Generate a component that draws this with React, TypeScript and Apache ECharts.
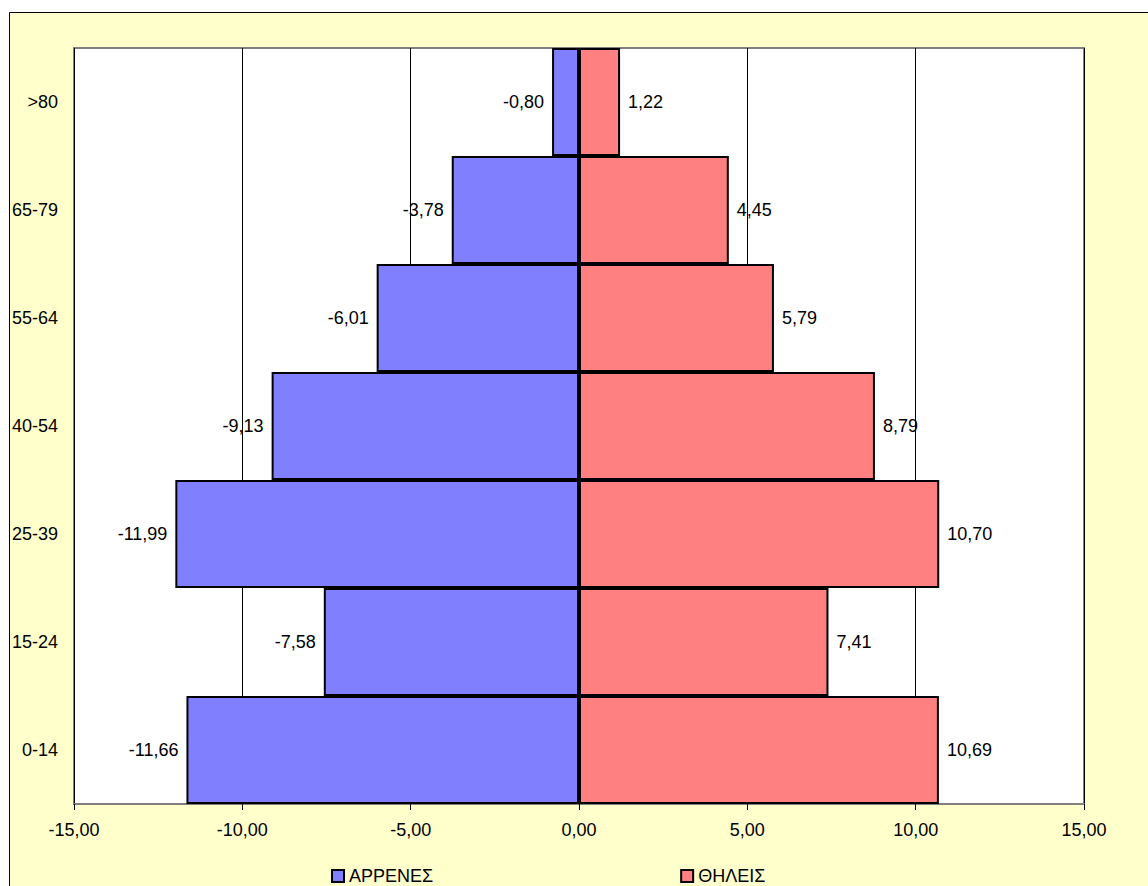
import React, { useEffect, useRef } from "react";
import * as echarts from "echarts";

// Age groups, bottom to top
const ageGroups = ["0-14", "15-24", "25-39", "40-54", "55-64", "65-79", ">80"];
// Percent of population, men shown as negative values
const menValues = [-11.66, -7.58, -11.99, -9.13, -6.01, -3.78, -0.8];
const womenValues = [10.69, 7.41, 10.7, 8.79, 5.79, 4.45, 1.22];
const seriesNames = ["ΑΡΡΕΝΕΣ", "ΘΗΛΕΙΣ"];

const FONT = "'Liberation Sans', Arial, sans-serif";
const fmt = (v: number) => v.toFixed(2).replace(".", ",");

export default function App() {
  const ref = useRef<HTMLDivElement>(null);

  useEffect(() => {
    if (!ref.current) return;
    const chart = echarts.init(ref.current, undefined, { renderer: "svg" });
    const labelStyle = {
      show: true,
      color: "#000",
      fontFamily: FONT,
      fontSize: 18,
      distance: 8,
    };
    chart.setOption({
      animation: false,
      backgroundColor: "#ffffff",
      textStyle: { fontFamily: FONT },
      graphic: [
        {
          type: "rect",
          z: -100,
          shape: { x: 9.5, y: 12.5, width: 1200, height: 1000 },
          style: { fill: "#FFFFCC", stroke: "#000", lineWidth: 1 },
          silent: true,
        },
      ],
      grid: {
        left: 74,
        top: 48,
        width: 1010,
        height: 756,
        show: true,
        backgroundColor: "#ffffff",
        borderColor: "#808080",
        borderWidth: 2,
      },
      legend: {
        data: seriesNames,
        left: 326,
        top: 862,
        itemGap: 247,
        itemWidth: 12,
        itemHeight: 12,
        icon: "rect",
        textStyle: { color: "#000", fontSize: 18, fontFamily: FONT },
      },
      xAxis: {
        type: "value",
        min: -15,
        max: 15,
        interval: 5,
        axisLine: { show: true, onZero: false, lineStyle: { color: "#808080", width: 2 } },
        axisTick: { show: true, length: 6, lineStyle: { color: "#000", width: 1 } },
        axisLabel: {
          color: "#000",
          fontSize: 18,
          fontFamily: FONT,
          margin: 17,
          formatter: (v: number) => fmt(v),
        },
        splitLine: { show: true, lineStyle: { color: "#000", width: 1 } },
      },
      yAxis: {
        type: "category",
        data: ageGroups,
        position: "left",
        axisLine: { show: false, onZero: false },
        axisTick: { show: false },
        splitLine: { show: false },
        axisLabel: {
          color: "#000",
          fontSize: 18,
          fontFamily: FONT,
          margin: 16,
        },
      },
      series: [
        {
          name: seriesNames[0],
          type: "bar",
          stack: "pyramid",
          barCategoryGap: "0%",
          data: menValues,
          itemStyle: { color: "#8080FF", borderColor: "#000", borderWidth: 2 },
          label: { ...labelStyle, position: "left", formatter: (p: any) => fmt(p.value) },
          markLine: {
            silent: true,
            symbol: "none",
            label: { show: false },
            lineStyle: { color: "#000", width: 3, type: "solid" },
            data: [{ xAxis: 0 }],
            z: 10,
          },
        },
        {
          name: seriesNames[1],
          type: "bar",
          stack: "pyramid",
          barCategoryGap: "0%",
          data: womenValues,
          itemStyle: { color: "#FF8080", borderColor: "#000", borderWidth: 2 },
          label: { ...labelStyle, position: "right", formatter: (p: any) => fmt(p.value) },
        },
      ],
    });
    return () => chart.dispose();
  }, []);

  return (
    <div
      ref={ref}
      style={{ position: "absolute", left: 0, top: 0, width: 1148, height: 886 }}
    />
  );
}
